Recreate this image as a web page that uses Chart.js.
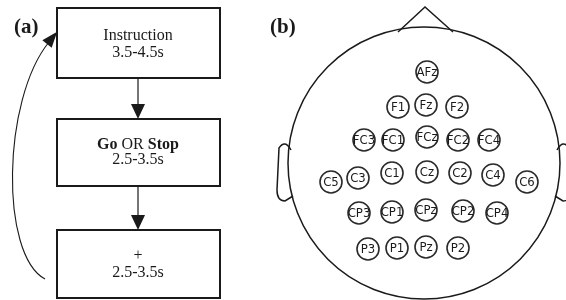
<!DOCTYPE html>
<html>
<head>
<meta charset="utf-8">
<script src="https://cdn.jsdelivr.net/npm/chart.js@4/dist/chart.umd.min.js"></script>
<style>
  html, body { margin: 0; padding: 0; background: #fff; }
  #wrap { width: 566px; height: 300px; }
</style>
</head>
<body>
<div id="wrap"><canvas id="myChart"></canvas></div>
<script>
// (a) trial sequence
const steps = ['Instruction', 'Go OR Stop', '+'];
const durations = ['3.5-4.5s', '2.5-3.5s', '2.5-3.5s'];

// (b) electrode montage
const electrodes = ['AFz', 'F1', 'Fz', 'F2', 'FC3', 'FC1', 'FCz', 'FC2', 'FC4',
  'C5', 'C3', 'C1', 'Cz', 'C2', 'C4', 'C6', 'CP3', 'CP1', 'CPz', 'CP2', 'CP4',
  'P3', 'P1', 'Pz', 'P2'];
const electrodeX = [427, 398, 426, 457, 364, 393, 427, 458, 489,
  331, 358, 392, 427, 460, 493, 527, 359, 392, 426, 463, 497,
  368, 397, 426, 458];
const electrodeY = [72, 107, 105, 107, 140, 140, 137, 140, 140,
  182, 178, 173, 172, 173, 175, 182, 213, 212, 210, 211, 213,
  249, 248, 247, 248];

const ink = '#1a1a1a';
const serif = '"Liberation Serif", "Times New Roman", serif';

function line(c, x1, y1, x2, y2) {
  c.beginPath(); c.moveTo(x1, y1); c.lineTo(x2, y2); c.stroke();
}
function tri(c, pts) {
  c.beginPath(); c.moveTo(pts[0], pts[1]); c.lineTo(pts[2], pts[3]); c.lineTo(pts[4], pts[5]);
  c.closePath(); c.fill();
}

const figure = {
  id: 'figure',
  beforeDatasetsDraw(chart) {
    const c = chart.ctx;
    const sx = chart.scales.x, sy = chart.scales.y;
    const X = v => sx.getPixelForValue(v), Y = v => sy.getPixelForValue(v);
    c.save();
    c.strokeStyle = ink; c.fillStyle = ink;

    // flowchart boxes
    const boxes = [[8, 78], [119, 186], [230, 298]];
    c.lineWidth = 2;
    boxes.forEach(b => c.strokeRect(X(57), Y(b[0]), X(220) - X(57), Y(b[1]) - Y(b[0])));
    c.lineWidth = 1.2;
    for (let i = 0; i < 2; i++) {
      const y0 = boxes[i][1], y1 = boxes[i + 1][0];
      line(c, X(138), Y(y0), X(138), Y(y1 - 14));
      tri(c, [X(131), Y(y1 - 15), X(145), Y(y1 - 15), X(138), Y(y1)]);
    }
    // loop back arrow
    c.lineWidth = 1.1;
    c.beginPath();
    c.moveTo(X(45), Y(279));
    c.bezierCurveTo(X(0), Y(255), X(2), Y(100), X(49), Y(42));
    c.stroke();
    const d = [0.63, -0.78], p = [0.78, 0.63];
    tri(c, [X(49 + 13 * d[0]), Y(42 + 13 * d[1]),
      X(47 + 6 * p[0]), Y(44 + 6 * p[1]), X(47 - 6 * p[0]), Y(44 - 6 * p[1])]);

    // box texts
    c.textAlign = 'center'; c.textBaseline = 'middle';
    c.font = '16px ' + serif;
    c.fillText(steps[0], X(138), Y(36));
    c.fillText(durations[0], X(138), Y(53));
    // mixed bold "Go OR Stop"
    const parts = steps[1].split(' ');
    const fonts = ['bold 16px ' + serif, '16px ' + serif, 'bold 16px ' + serif];
    let widths = parts.map((t, i) => { c.font = fonts[i]; return c.measureText(t).width; });
    c.font = '16px ' + serif;
    const sp = c.measureText(' ').width;
    let total = widths.reduce((a, b) => a + b, 0) + sp * 2;
    let x = X(138) - total / 2;
    c.textAlign = 'left';
    parts.forEach((t, i) => { c.font = fonts[i]; c.fillText(t, x, Y(145)); x += widths[i] + sp; });
    c.textAlign = 'center';
    c.font = '16px ' + serif;
    c.fillText(durations[1], X(138), Y(160));
    c.fillText(steps[2], X(138), Y(256));
    c.fillText(durations[2], X(138), Y(273));

    // panel letters
    c.textAlign = 'left'; c.textBaseline = 'alphabetic';
    c.font = 'bold 21px ' + serif;
    c.fillText('(a)', X(14), Y(33));
    c.fillText('(b)', X(270), Y(33));

    // head
    c.lineWidth = 1.5;
    const r = X(424 + 136) - X(424);
    c.beginPath(); c.arc(X(424), Y(163), r, 0, Math.PI * 2); c.stroke();
    c.beginPath();
    c.moveTo(X(398), Y(32)); c.lineTo(X(425), Y(7)); c.lineTo(X(453), Y(32));
    c.stroke();
    // ears
    [1, -1].forEach(s => {
      const ex = v => X(424 + s * (v - 424));
      c.beginPath();
      c.moveTo(ex(291), Y(150));
      c.quadraticCurveTo(ex(285), Y(139), ex(279), Y(148));
      c.lineTo(ex(277), Y(190));
      c.quadraticCurveTo(ex(277), Y(201), ex(285), Y(201));
      c.lineTo(ex(293), Y(196));
      c.stroke();
    });
    c.restore();
  },
  afterDatasetsDraw(chart) {
    const c = chart.ctx;
    const meta = chart.getDatasetMeta(0);
    c.save();
    c.fillStyle = '#1a1a1a';
    c.font = '13px "DejaVu Sans Condensed", "DejaVu Sans", sans-serif';
    c.textAlign = 'center'; c.textBaseline = 'middle';
    meta.data.forEach((pt, i) => c.fillText(electrodes[i], pt.x, pt.y + 0.5));
    c.restore();
  }
};

new Chart(document.getElementById('myChart'), {
  type: 'scatter',
  data: {
    datasets: [{
      data: electrodes.map((n, i) => ({ x: electrodeX[i], y: electrodeY[i] })),
      pointRadius: 11,
      pointHoverRadius: 11,
      borderWidth: 1.6,
      borderColor: '#2a2a2a',
      backgroundColor: '#fff',
      clip: false
    }]
  },
  options: {
    responsive: true,
    maintainAspectRatio: false,
    animation: false,
    events: [],
    layout: { padding: 0, autoPadding: false },
    scales: {
      x: { type: 'linear', min: 0, max: 566, display: false },
      y: { type: 'linear', min: 0, max: 300, reverse: true, display: false }
    },
    plugins: { legend: { display: false }, tooltip: { enabled: false } }
  },
  plugins: [figure]
});
</script>
</body>
</html>
